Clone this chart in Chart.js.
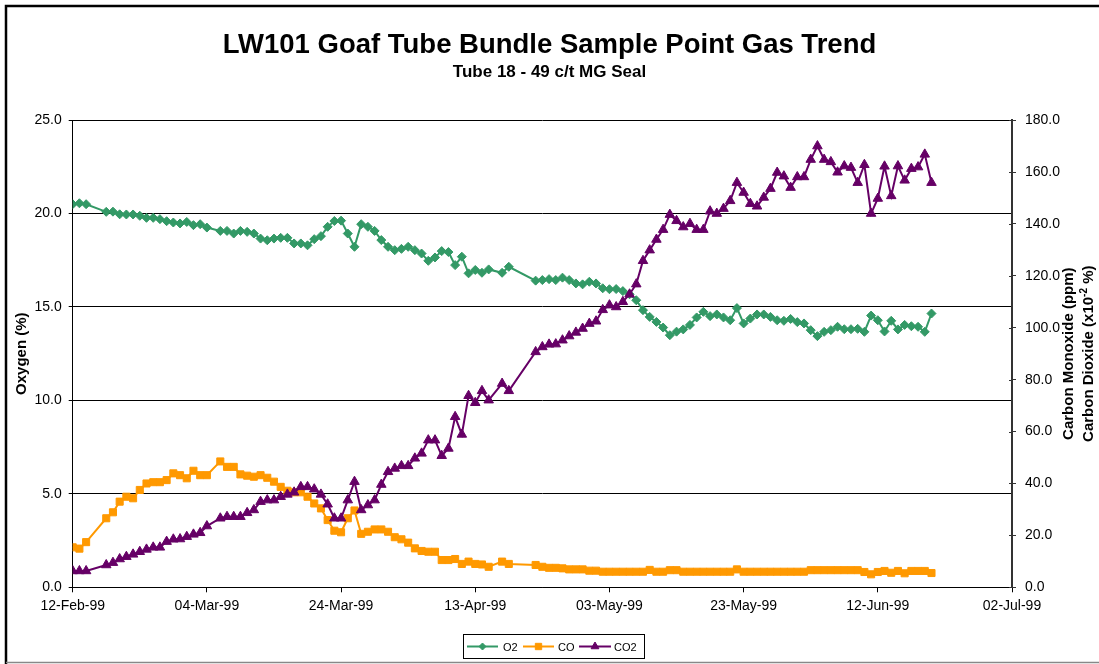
<!DOCTYPE html>
<html>
<head>
<meta charset="utf-8">
<script src="https://cdn.jsdelivr.net/npm/chart.js@4.4.0/dist/chart.umd.min.js"></script>
<style>
  body { margin: 0; background: #fff; }
  #wrap { width: 1099px; height: 664px; }
</style>
</head>
<body>
<div id="wrap"><canvas id="gasChart"></canvas></div>
<script>
// sample days counted from 12-Feb-99
const sampleDays = [0, 1, 2, 5, 6, 7, 8, 9, 10, 11, 12, 13, 14, 15, 16, 17, 18, 19, 20,
  22, 23, 24, 25, 26, 27, 28, 29, 30, 31, 32, 33, 34, 35, 36, 37, 38, 39, 40, 41, 42,
  43, 44, 45, 46, 47, 48, 49, 50, 51, 52, 53, 54, 55, 56, 57, 58, 59, 60, 61, 62, 64, 65,
  69, 70, 71, 72, 73, 74, 75, 76, 77, 78, 79, 80, 81, 82, 83, 84, 85, 86, 87, 88, 89, 90,
  91, 92, 93, 94, 95, 96, 97, 98, 99, 100, 101, 102, 103, 104, 105, 106, 107, 108, 109,
  110, 111, 112, 113, 114, 115, 116, 117, 118, 119, 120, 121, 122, 123, 124, 125, 126, 127, 128];

const o2Values = [20.5, 20.55, 20.5, 20.09, 20.1, 19.96, 19.95, 19.95, 19.88, 19.77, 19.77, 19.7, 19.59, 19.52, 19.47, 19.55, 19.38, 19.43, 19.25,
  19.07, 19.07, 18.93, 19.07, 19.02, 18.93, 18.66, 18.57, 18.66, 18.7, 18.7, 18.4, 18.4, 18.3, 18.63, 18.79, 19.29, 19.6, 19.62, 18.93, 18.22,
  19.43, 19.29, 19.07, 18.58, 18.22, 18.04, 18.11, 18.22, 18.04, 17.86, 17.47, 17.65, 17.99, 17.94, 17.24, 17.69, 16.8, 16.98, 16.83, 17.01, 16.83, 17.15,
  16.41, 16.44, 16.49, 16.44, 16.57, 16.44, 16.26, 16.21, 16.35, 16.26, 16.0, 15.95, 15.96, 15.85, 15.68, 15.36, 14.83, 14.47, 14.2, 13.9, 13.49, 13.68,
  13.8, 14.04, 14.44, 14.74, 14.51, 14.6, 14.44, 14.29, 14.94, 14.12, 14.38, 14.6, 14.6, 14.47, 14.29, 14.26, 14.36, 14.19, 14.12,
  13.76, 13.44, 13.67, 13.76, 13.94, 13.81, 13.81, 13.83, 13.67, 14.54, 14.29, 13.69, 14.26, 13.8, 14.04, 13.97, 13.94, 13.67, 14.65];

const coValues = [15.4, 14.9, 17.4, 26.6, 28.9, 33.0, 34.9, 34.3, 37.5, 40.0, 40.5, 40.5, 41.3, 43.9, 43.2, 42.0, 44.9, 43.2, 43.2,
  48.5, 46.4, 46.4, 43.5, 43.0, 42.6, 43.2, 42.2, 40.7, 38.7, 37.2, 36.6, 36.6, 34.9, 32.3, 30.4, 25.9, 21.8, 21.2, 26.6, 29.6,
  20.6, 21.4, 22.3, 22.3, 21.4, 19.3, 18.5, 17.2, 15.0, 14.0, 13.7, 13.7, 10.5, 10.5, 10.9, 9.0, 9.9, 9.0, 8.8, 7.9, 9.9, 9.0,
  8.6, 7.9, 7.5, 7.5, 7.3, 6.9, 6.9, 6.9, 6.4, 6.4, 6.0, 6.0, 6.0, 6.0, 6.0, 6.0, 6.0, 6.7, 6.0, 6.0, 6.6, 6.6,
  6.0, 6.0, 6.0, 6.0, 6.0, 6.0, 6.0, 6.0, 6.9, 6.0, 6.0, 6.0, 6.0, 6.0, 6.0, 6.0, 6.0, 6.0, 6.0,
  6.6, 6.6, 6.6, 6.6, 6.6, 6.6, 6.6, 6.6, 5.9, 5.0, 5.9, 6.3, 5.6, 6.3, 5.4, 6.3, 6.3, 6.3, 5.5];

const co2Values = [6.3, 6.3, 6.3, 8.6, 9.5, 10.9, 11.8, 12.7, 13.7, 14.6, 15.4, 15.4, 17.6, 18.5, 18.6, 19.5, 20.4, 21.0, 23.6,
  26.6, 27.2, 27.2, 27.2, 28.7, 29.8, 33.0, 33.6, 33.6, 34.9, 35.8, 36.6, 38.7, 38.7, 37.8, 35.8, 32.0, 26.6, 26.6, 33.6, 40.7,
  29.8, 31.7, 33.6, 39.6, 44.5, 45.8, 46.8, 46.8, 49.7, 51.6, 56.7, 56.7, 50.7, 53.5, 65.7, 58.9, 73.8, 71.1, 75.7, 72.1, 78.5, 75.7,
  90.7, 92.6, 93.6, 93.7, 95.2, 96.8, 98.2, 99.7, 101.6, 102.5, 106.9, 108.7, 108.0, 110.0, 112.9, 116.8, 125.8, 129.9, 134.0, 137.8, 143.6, 141.2,
  138.8, 140.1, 137.8, 137.8, 144.9, 144.0, 145.9, 148.9, 155.9, 152.1, 147.8, 146.8, 150.2, 153.6, 159.8, 158.4, 154.0, 158.1, 158.1,
  164.8, 170.0, 164.8, 163.9, 159.9, 162.3, 161.7, 155.9, 162.8, 144.0, 149.8, 162.2, 150.8, 162.3, 156.8, 161.3, 161.9, 166.8, 155.9];

const xTickLabels = ['12-Feb-99', '04-Mar-99', '24-Mar-99', '13-Apr-99', '03-May-99', '23-May-99', '12-Jun-99', '02-Jul-99'];

const FONT = "'Liberation Sans', Arial, sans-serif";
const toPoints = vals => vals.map((v, i) => ({ x: sampleDays[i], y: v }));

const series = [
  { label: 'O2', color: '#339966', style: 'rectRot', r: 4.5, legendR: 3.5 },
  { label: 'CO', color: '#FF9900', style: 'rect', r: 5, legendR: 4.5 },
  { label: 'CO2', color: '#660066', style: 'triangle', r: 5.5, legendR: 4.5 }
];

// frame, rotated axis titles, boxed legend
const extras = {
  id: 'extras',
  afterDraw(chart) {
    const c = chart.ctx;
    c.save();
    c.strokeStyle = '#000';
    c.lineWidth = 2.5;
    c.beginPath();
    c.moveTo(6, 664); c.lineTo(6, 6); c.lineTo(1099, 6);
    c.stroke();
    c.strokeStyle = '#888';
    c.lineWidth = 1.5;
    c.beginPath();
    c.moveTo(6, 662.5); c.lineTo(1099, 662.5);
    c.stroke();

    // inward part of right axis ticks
    const y1 = chart.scales.y1;
    c.strokeStyle = '#333';
    c.lineWidth = 1;
    y1.ticks.forEach(t => {
      const py = Math.round(y1.getPixelForValue(t.value)) + 0.5;
      c.beginPath(); c.moveTo(y1.left - 3, py); c.lineTo(y1.left, py); c.stroke();
    });

    // axis titles
    const mid = (chart.chartArea.top + chart.chartArea.bottom) / 2;
    c.fillStyle = '#000';
    c.textAlign = 'center';
    c.textBaseline = 'middle';
    c.font = 'bold 15px ' + FONT;
    c.save(); c.translate(22, mid); c.rotate(-Math.PI / 2); c.fillText('Oxygen (%)', 0, 0); c.restore();
    c.save(); c.translate(1069, mid); c.rotate(-Math.PI / 2); c.fillText('Carbon Monoxide (ppm)', 0, 0); c.restore();

    c.save();
    c.translate(1089, mid);
    c.rotate(-Math.PI / 2);
    const a = 'Carbon Dioxide (x10', sup = '-2', b = ' %)';
    c.font = 'bold 15px ' + FONT;
    const wa = c.measureText(a).width, wb = c.measureText(b).width;
    c.font = 'bold 10px ' + FONT;
    const ws = c.measureText(sup).width;
    let x = -(wa + ws + wb) / 2;
    c.textAlign = 'left';
    c.font = 'bold 15px ' + FONT;
    c.fillText(a, x, 0); x += wa;
    c.font = 'bold 10px ' + FONT;
    c.fillText(sup, x, -5); x += ws;
    c.font = 'bold 15px ' + FONT;
    c.fillText(b, x, 0);
    c.restore();

    // legend
    c.strokeStyle = '#000';
    c.lineWidth = 1;
    c.strokeRect(463.5, 634.5, 181, 24);
    const ly = 646.5;
    const items = [[467, 498, 503], [523, 554, 558], [579, 611, 614]];
    c.font = '11px ' + FONT;
    c.textAlign = 'left';
    series.forEach((s, i) => {
      const [x0, x1, tx] = items[i];
      c.strokeStyle = s.color;
      c.fillStyle = s.color;
      c.lineWidth = 2;
      c.beginPath(); c.moveTo(x0, ly); c.lineTo(x1, ly); c.stroke();
      c.lineWidth = 1;
      Chart.helpers.drawPoint(c, { pointStyle: s.style, radius: s.legendR, rotation: 0, borderWidth: 1 }, (x0 + x1) / 2, ly);
      c.fillStyle = '#000';
      c.fillText(s.label, tx, ly + 1);
    });
    c.restore();
  }
};

const valueSets = [o2Values, coValues, co2Values];

new Chart(document.getElementById('gasChart'), {
  type: 'line',
  data: {
    datasets: series.map((s, i) => ({
      label: s.label,
      data: toPoints(valueSets[i]),
      yAxisID: i === 0 ? 'y' : 'y1',
      borderColor: s.color,
      backgroundColor: s.color,
      borderWidth: 2,
      pointStyle: s.style,
      pointRadius: s.r,
      pointBackgroundColor: s.color,
      pointBorderColor: s.color,
      pointBorderWidth: 1,
      tension: 0,
      order: 3 - i
    }))
  },
  options: {
    animation: false,
    responsive: true,
    maintainAspectRatio: false,
    layout: { padding: { top: 0, left: 0, right: 0, bottom: 46.7 } },
    plugins: {
      legend: { display: false },
      tooltip: { enabled: false },
      title: {
        display: true,
        text: 'LW101 Goaf Tube Bundle Sample Point Gas Trend',
        color: '#000',
        font: { family: FONT, size: 27.5, weight: 'bold' },
        padding: { top: 28.5, bottom: 0 }
      },
      subtitle: {
        display: true,
        text: 'Tube 18 - 49 c/t MG Seal',
        color: '#000',
        font: { family: FONT, size: 17, weight: 'bold' },
        padding: { top: 1, bottom: 37.2 }
      }
    },
    scales: {
      x: {
        type: 'linear',
        min: 0,
        max: 140,
        ticks: {
          stepSize: 20,
          padding: 5,
          color: '#000',
          font: { family: FONT, size: 14 },
          maxRotation: 0,
          callback: (v, i) => xTickLabels[i]
        },
        grid: { drawOnChartArea: false, tickLength: 5, color: '#000' },
        border: { color: '#000', width: 1 },
        afterFit: s => { s.height = 30; }
      },
      y: {
        position: 'left',
        min: 0,
        max: 25,
        ticks: {
          stepSize: 5,
          padding: 7,
          color: '#000',
          font: { family: FONT, size: 14 },
          callback: v => v.toFixed(1)
        },
        grid: { color: '#000', lineWidth: 1, tickLength: 4 },
        border: { color: '#000', width: 1 },
        afterFit: s => { s.width = 72.7; }
      },
      y1: {
        position: 'right',
        min: 0,
        max: 180,
        ticks: {
          stepSize: 20,
          padding: 9,
          color: '#000',
          font: { family: FONT, size: 14 },
          callback: v => v.toFixed(1)
        },
        grid: { drawOnChartArea: false, tickLength: 4, color: '#333' },
        border: { color: '#333', width: 2 },
        afterFit: s => { s.width = 87; }
      }
    }
  },
  plugins: [extras]
});
</script>
</body>
</html>
